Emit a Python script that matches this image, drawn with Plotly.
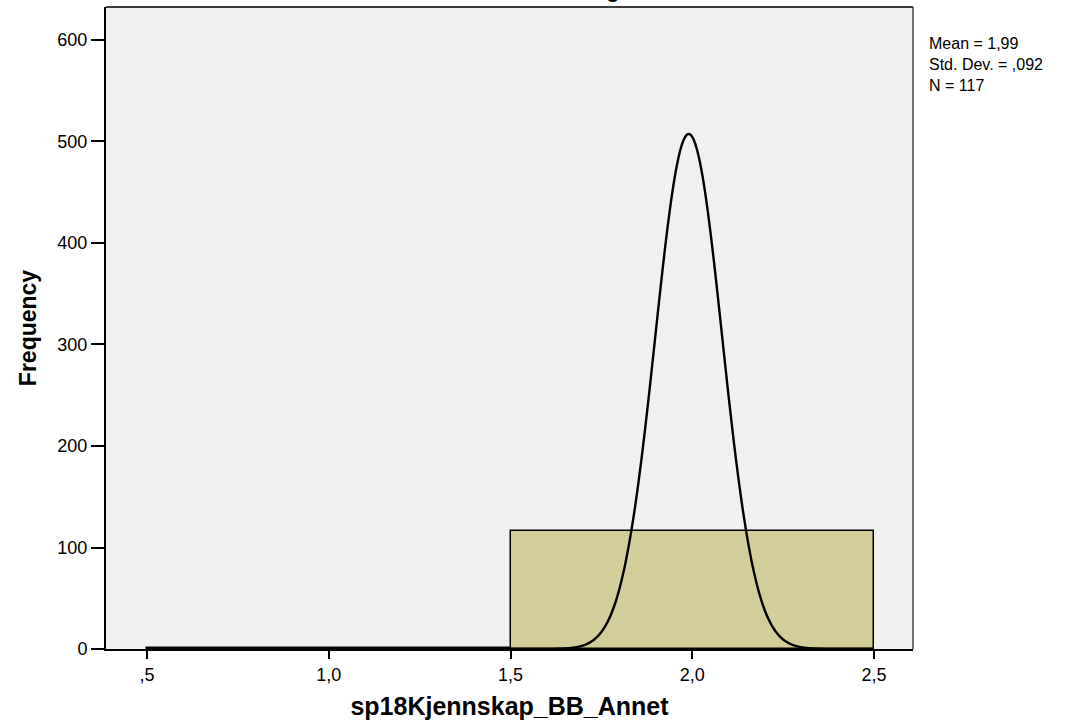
import numpy as np
import plotly.graph_objects as go

# Data
bin_left = [0.5, 1.5]
bin_right = [1.5, 2.5]
counts = [1, 116]
MEAN = 1.99
SD = 0.092
N = 117
x_tickvals = [0.5, 1.0, 1.5, 2.0, 2.5]
x_ticktext = [",5", "1,0", "1,5", "2,0", "2,5"]
y_tickvals = [0, 100, 200, 300, 400, 500, 600]
y_ticktext = ["0", "100", "200", "300", "400", "500", "600"]
stats_lines = ["Mean = 1,99", "Std. Dev. = ,092", "N = 117"]

bin_centers = [(a + b) / 2 for a, b in zip(bin_left, bin_right)]
bin_widths = [b - a for a, b in zip(bin_left, bin_right)]
binw = bin_widths[0]

# fitted normal curve from the reported statistics
xc = np.linspace(0.5, 2.5, 801)
yc = N * binw / (SD * np.sqrt(2 * np.pi)) * np.exp(-0.5 * ((xc - MEAN) / SD) ** 2)

fig = go.Figure()
fig.add_trace(go.Bar(
    x=bin_centers, y=counts, width=bin_widths,
    marker=dict(color="rgb(211,206,153)", line=dict(color="black", width=1.5)),
    hoverinfo="skip",
))
fig.add_trace(go.Scatter(
    x=xc, y=yc, mode="lines",
    line=dict(color="black", width=2.4, shape="spline"),
    hoverinfo="skip",
))

W, H = 1088, 724
L, R, T, B = 106, 175, 7, 75
PW, PH = W - L - R, H - T - B
FONT = "Liberation Sans, Arial, sans-serif"

annotations = [
    dict(text="<br>".join(stats_lines), xref="paper", yref="paper",
         x=1 + 14 / PW, y=1 - (33 - T) / PH,
         xanchor="left", yanchor="top", align="left", showarrow=False,
         font=dict(size=16, color="black", family=FONT)),
    dict(text="<b>Histogram</b>", xref="paper", yref="paper",
         x=(606 - L) / PW, y=1 + 3 / PH,
         xanchor="center", yanchor="bottom", showarrow=False,
         font=dict(size=21, color="black", family=FONT)),
]

fig.update_layout(
    width=W, height=H,
    margin=dict(l=L, r=R, t=T, b=B),
    paper_bgcolor="white",
    plot_bgcolor="rgb(240,240,240)",
    showlegend=False,
    bargap=0,
    font=dict(family=FONT, color="black"),
    xaxis=dict(
        range=[0.387, 2.607],
        tickmode="array", tickvals=x_tickvals, ticktext=x_ticktext,
        ticks="outside", ticklen=8, tickwidth=2, tickcolor="black",
        tickfont=dict(size=18),
        showgrid=False, zeroline=False,
        showline=True, linecolor="black", linewidth=2,
        title=dict(text="<b>sp18Kjennskap_BB_Annet</b>", font=dict(size=25), standoff=14),
    ),
    yaxis=dict(
        range=[0, 632.5],
        tickmode="array", tickvals=y_tickvals, ticktext=y_ticktext,
        ticks="outside", ticklen=13, tickwidth=2, tickcolor="black",
        tickfont=dict(size=18),
        showgrid=False, zeroline=False,
        showline=True, linecolor="black", linewidth=2,
        title=dict(text="<b>Frequency</b>", font=dict(size=23), standoff=14),
    ),
    shapes=[
        dict(type="line", xref="paper", yref="paper", x0=0, x1=1, y0=1, y1=1,
             line=dict(color="rgb(60,60,60)", width=2)),
        dict(type="line", xref="paper", yref="paper", x0=1, x1=1, y0=0, y1=1,
             line=dict(color="rgb(70,70,70)", width=1.5)),
    ],
    annotations=annotations,
)

fig.write_html("out.html", config={"displayModeBar": False},
               post_script="document.body.style.margin='0';")
